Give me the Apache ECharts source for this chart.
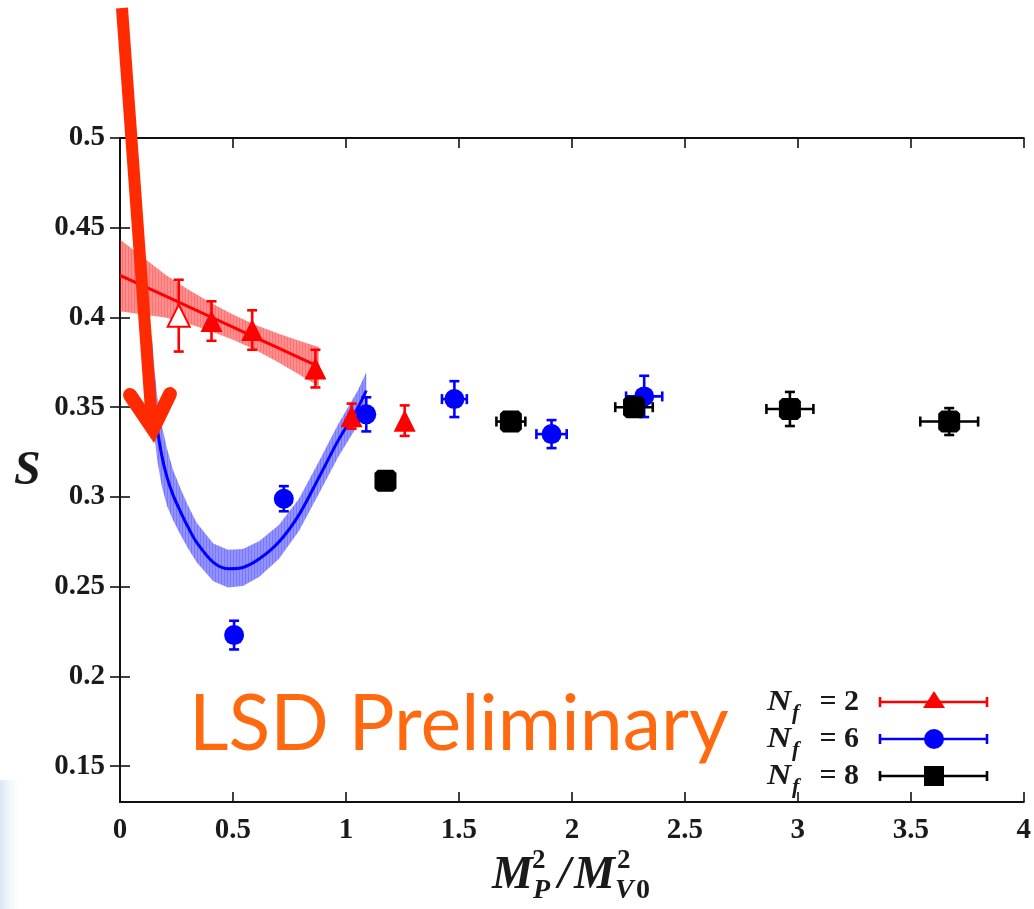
<!DOCTYPE html>
<html>
<head>
<meta charset="utf-8">
<script src="https://cdn.jsdelivr.net/npm/echarts@6/dist/echarts.min.js"></script>
<style>
  html, body { margin: 0; padding: 0; background: #ffffff; }
  #chart { width: 1034px; height: 909px; }
</style>
</head>
<body>
<div id="chart"></div>
<script>
// ---- tick values ----
const xTicks = [0, 0.5, 1, 1.5, 2, 2.5, 3, 3.5, 4];
const yTicks = [0.15, 0.2, 0.25, 0.3, 0.35, 0.4, 0.45, 0.5];

// ---- N_f = 2 (red triangles) ----
const nf2X    = [0.26, 0.405, 0.585, 0.865, 1.025, 1.26];
const nf2S    = [0.401, 0.398, 0.393, 0.3715, 0.345, 0.3425];
const nf2SErr = [0.020, 0.011, 0.011, 0.0105, 0.007, 0.0085];
const nf2XErr = [0, 0, 0, 0, 0, 0];

// ---- N_f = 6 (blue circles) ----
const nf6X    = [0.505, 0.725, 1.09, 1.48, 1.91, 2.32];
const nf6S    = [0.223, 0.299, 0.346, 0.3545, 0.335, 0.356];
const nf6SErr = [0.008, 0.007, 0.0095, 0.010, 0.0078, 0.0115];
const nf6XErr = [0, 0, 0, 0.055, 0.067, 0.08];

// ---- N_f = 8 (black squares) ----
const nf8X    = [1.175, 1.73, 2.275, 2.965, 3.67];
const nf8S    = [0.309, 0.342, 0.350, 0.349, 0.342];
const nf8SErr = [0.003, 0.004, 0.003, 0.0095, 0.0075];
const nf8XErr = [0.02, 0.064, 0.083, 0.104, 0.128];

// ---- N_f = 2 chiral fit with error band ----
const fit2X  = [0, 0.1, 0.2, 0.3, 0.4, 0.5, 0.6, 0.7, 0.8, 0.88];
const fit2S  = [0.4235, 0.4177, 0.4120, 0.4062, 0.4004, 0.3946, 0.3888, 0.3830, 0.3772, 0.3726];
const fit2Hi = [0.4435, 0.4337, 0.4240, 0.4157, 0.4084, 0.4016, 0.3958, 0.3910, 0.3867, 0.3836];
const fit2Lo = [0.4035, 0.4017, 0.4000, 0.3967, 0.3924, 0.3876, 0.3818, 0.3750, 0.3677, 0.3616];

// ---- N_f = 6 chiral fit with error band ----
const fit6X  = [0.14, 0.15, 0.164, 0.185, 0.208, 0.235, 0.267, 0.30, 0.34, 0.413, 0.478, 0.544, 0.617, 0.704, 0.792, 0.879, 0.966, 1.054, 1.09];
const fit6S  = [0.372, 0.356, 0.339, 0.323, 0.311, 0.301, 0.292, 0.2835, 0.2745, 0.2635, 0.2600, 0.2607, 0.2655, 0.2750, 0.2900, 0.3105, 0.3315, 0.3500, 0.3593];
const fit6Hi = [0.392, 0.375, 0.357, 0.340, 0.327, 0.315, 0.305, 0.2955, 0.2855, 0.2740, 0.2705, 0.2710, 0.2755, 0.2845, 0.2990, 0.3195, 0.3407, 0.3597, 0.3695];
const fit6Lo = [0.352, 0.337, 0.321, 0.306, 0.295, 0.287, 0.279, 0.2715, 0.2635, 0.2530, 0.2495, 0.2504, 0.2555, 0.2655, 0.2810, 0.3015, 0.3223, 0.3403, 0.3491];

const RED = '#ff0000', BLUE = '#0000ff', BLACK = '#000000';
const SERIF = '"Liberation Serif", "Times New Roman", serif';
// small square marker with slightly clipped corners
const SQUARE = 'path://M1.5,0 L8.5,0 L10,1.5 L10,8.5 L8.5,10 L1.5,10 L0,8.5 L0,1.5 Z';

// vertical-stripe fill used for the fit bands
function stripes(r, g, b) {
  const c = document.createElement('canvas');
  c.width = 3; c.height = 4;
  const ctx = c.getContext('2d');
  ctx.fillStyle = `rgba(${r},${g},${b},0.48)`;
  ctx.fillRect(0, 0, 3, 4);
  ctx.fillStyle = `rgba(${r},${g},${b},0.24)`;
  ctx.fillRect(2, 0, 1, 4);
  return { image: c, repeat: 'repeat' };
}

function bandSeries(xs, hi, lo, fill, z) {
  const rows = xs.map((x, i) => [x, hi[i], lo[i]]);
  return {
    type: 'custom', z, silent: true,
    data: rows,
    encode: { x: 0, y: [1, 2] },
    renderItem(params, api) {
      if (params.dataIndex !== 0) return null;
      const top = rows.map(r => api.coord([r[0], r[1]]));
      const bot = rows.map(r => api.coord([r[0], r[2]])).reverse();
      return { type: 'polygon', shape: { points: top.concat(bot) }, style: { fill, stroke: null } };
    }
  };
}

function fitLine(xs, ys, color, z, smooth) {
  return {
    type: 'line', z, silent: true, showSymbol: false, smooth,
    data: xs.map((x, i) => [x, ys[i]]),
    lineStyle: { color, width: 3 }
  };
}

function errorSeries(xs, ys, sErr, xErr, color, z) {
  return {
    type: 'custom', z, silent: true,
    data: xs.map((x, i) => [x, ys[i], xErr[i], sErr[i]]),
    encode: { x: 0, y: 1 },
    renderItem(params, api) {
      const x = api.value(0), y = api.value(1), xe = api.value(2), ye = api.value(3);
      const cap = 5;
      const st = { stroke: color, lineWidth: 2.6 };
      const kids = [];
      if (ye > 0) {
        const t = api.coord([x, y + ye]), b = api.coord([x, y - ye]);
        kids.push({ type: 'line', shape: { x1: t[0], y1: t[1], x2: b[0], y2: b[1] }, style: st });
        kids.push({ type: 'line', shape: { x1: t[0] - cap, y1: t[1], x2: t[0] + cap, y2: t[1] }, style: st });
        kids.push({ type: 'line', shape: { x1: b[0] - cap, y1: b[1], x2: b[0] + cap, y2: b[1] }, style: st });
      }
      if (xe > 0) {
        const l = api.coord([x - xe, y]), r = api.coord([x + xe, y]);
        kids.push({ type: 'line', shape: { x1: l[0], y1: l[1], x2: r[0], y2: r[1] }, style: st });
        kids.push({ type: 'line', shape: { x1: l[0], y1: l[1] - cap, x2: l[0], y2: l[1] + cap }, style: st });
        kids.push({ type: 'line', shape: { x1: r[0], y1: r[1] - cap, x2: r[0], y2: r[1] + cap }, style: st });
      }
      return { type: 'group', children: kids };
    }
  };
}

function pointSeries(name, xs, ys, symbol, size, color, z, itemFn) {
  return {
    name, type: 'scatter', z, symbol, symbolSize: size,
    data: xs.map((x, i) => Object.assign({ value: [x, ys[i]] }, itemFn ? itemFn(i) : {})),
    itemStyle: { color, opacity: 1 }
  };
}

const axisLineStyle = { lineStyle: { color: '#111', width: 2 } };
const tickIn = { show: true, inside: true, length: 10, lineStyle: { color: '#111', width: 1.6 } };
const labelFont = { fontFamily: SERIF, fontWeight: 'bold', fontSize: 29, color: '#1a1a1a' };

// ---- legend (drawn beside the data, bottom right) ----
const legendRows = [
  { y: 702, color: RED,   label: '= 2', mark: 'tri' },
  { y: 739, color: BLUE,  label: '= 6', mark: 'circ' },
  { y: 776, color: BLACK, label: '= 8', mark: 'sq' }
];
const legendEls = [];
legendRows.forEach(r => {
  legendEls.push({ type: 'text', x: 767, y: r.y, z: 100, scaleX: 1.12, originX: 0, originY: 0,
    style: { text: 'N', font: `italic bold 30px ${SERIF}`, fill: '#1a1a1a', align: 'left', verticalAlign: 'middle' } });
  legendEls.push({ type: 'text', x: 792, y: r.y + 11, z: 100,
    style: { text: 'f', font: `italic bold 22px ${SERIF}`, fill: '#1a1a1a', align: 'left', verticalAlign: 'middle' } });
  legendEls.push({ type: 'text', x: 859, y: r.y, z: 100,
    style: { text: r.label, font: `bold 30px ${SERIF}`, fill: '#1a1a1a', align: 'right', verticalAlign: 'middle' } });
  const st = { stroke: r.color, lineWidth: 2.6 };
  legendEls.push({ type: 'line', z: 100, shape: { x1: 880, y1: r.y, x2: 987, y2: r.y }, style: st });
  legendEls.push({ type: 'line', z: 100, shape: { x1: 880, y1: r.y - 5, x2: 880, y2: r.y + 5 }, style: st });
  legendEls.push({ type: 'line', z: 100, shape: { x1: 987, y1: r.y - 5, x2: 987, y2: r.y + 5 }, style: st });
  if (r.mark === 'tri') {
    legendEls.push({ type: 'polygon', z: 101, shape: { points: [[934, r.y - 11], [945, r.y + 6], [923, r.y + 6]] }, style: { fill: r.color } });
  } else if (r.mark === 'circ') {
    legendEls.push({ type: 'circle', z: 101, shape: { cx: 934, cy: r.y, r: 10 }, style: { fill: r.color } });
  } else {
    legendEls.push({ type: 'rect', z: 101, shape: { x: 924, y: r.y - 10, width: 20, height: 20 }, style: { fill: r.color } });
  }
});

// ---- axis titles ----
const titleEls = [
  { type: 'text', x: 14, y: 472, z: 50, style: { text: 'S', font: `italic bold 48px ${SERIF}`, fill: '#1a1a1a', align: 'left', verticalAlign: 'middle' } },
  { type: 'text', x: 492, y: 876, z: 50, style: { text: 'M', font: `italic bold 46px ${SERIF}`, fill: '#1a1a1a', align: 'left', verticalAlign: 'middle' } },
  { type: 'text', x: 532, y: 861, z: 50, style: { text: '2', font: `bold 27px ${SERIF}`, fill: '#1a1a1a', align: 'left', verticalAlign: 'middle' } },
  { type: 'text', x: 533, y: 891, z: 50, style: { text: 'P', font: `italic bold 28px ${SERIF}`, fill: '#1a1a1a', align: 'left', verticalAlign: 'middle' } },
  { type: 'text', x: 558, y: 876, z: 50, style: { text: '/', font: `italic bold 46px ${SERIF}`, fill: '#1a1a1a', align: 'left', verticalAlign: 'middle' } },
  { type: 'text', x: 574, y: 876, z: 50, style: { text: 'M', font: `italic bold 46px ${SERIF}`, fill: '#1a1a1a', align: 'left', verticalAlign: 'middle' } },
  { type: 'text', x: 617, y: 861, z: 50, style: { text: '2', font: `bold 27px ${SERIF}`, fill: '#1a1a1a', align: 'left', verticalAlign: 'middle' } },
  { type: 'text', x: 615, y: 891, z: 50, style: { text: 'V', font: `italic bold 28px ${SERIF}`, fill: '#1a1a1a', align: 'left', verticalAlign: 'middle' } },
  { type: 'text', x: 636, y: 891, z: 50, style: { text: '0', font: `bold 28px ${SERIF}`, fill: '#1a1a1a', align: 'left', verticalAlign: 'middle' } }
];

// ---- slide annotations: watermark and pointer arrow ----
const annotEls = [
  { type: 'rect', z: 0, shape: { x: 0, y: 780, width: 24, height: 129 },
    style: { fill: { type: 'linear', x: 0, y: 0, x2: 1, y2: 0,
      colorStops: [{ offset: 0, color: 'rgba(200,221,240,0.7)' }, { offset: 1, color: 'rgba(255,255,255,0)' }] } } },
  { type: 'text', x: 189, y: 687, z: 90,
    style: { text: 'LSD Preliminary', font: '77px Lato, "Open Sans", sans-serif', fill: '#ff6a10', align: 'left', verticalAlign: 'top' } },
  { type: 'line', z: 120, shape: { x1: 122, y1: 8, x2: 152, y2: 424 }, style: { stroke: '#ff2a00', lineWidth: 12, lineCap: 'butt' } },
  { type: 'polyline', z: 121, shape: { points: [[130, 395], [153, 429], [170, 394]] },
    style: { stroke: '#ff2a00', lineWidth: 14, lineCap: 'round', lineJoin: 'miter', fill: null } }
];

const chart = echarts.init(document.getElementById('chart'), null, { renderer: 'canvas' });
chart.setOption({
  animation: false,
  backgroundColor: '#ffffff',
  grid: { left: 120, right: 4, top: 138, bottom: 107, containLabel: false },
  xAxis: [
    { type: 'value', min: 0, max: 4, interval: 0.5, position: 'bottom',
      axisLine: axisLineStyle, axisTick: tickIn, splitLine: { show: false },
      axisLabel: Object.assign({ margin: 14, customValues: xTicks, formatter: v => String(+(+v).toFixed(2)) }, labelFont) },
    { type: 'value', min: 0, max: 4, interval: 0.5, position: 'top',
      axisLine: axisLineStyle, axisTick: tickIn, splitLine: { show: false }, axisLabel: { show: false } }
  ],
  yAxis: [
    { type: 'value', min: 0.13, max: 0.5, position: 'left',
      axisLine: axisLineStyle, splitLine: { show: false },
      axisTick: Object.assign({}, tickIn, { customValues: yTicks }),
      axisLabel: Object.assign({ margin: 15, customValues: yTicks, formatter: v => String(+(+v).toFixed(2)) }, labelFont) },
    { type: 'value', min: 0.13, max: 0.5, position: 'right',
      axisLine: axisLineStyle, splitLine: { show: false },
      axisTick: Object.assign({}, tickIn, { customValues: yTicks }),
      axisLabel: { show: false } }
  ],
  series: [
    bandSeries(fit2X, fit2Hi, fit2Lo, stripes(255, 20, 20), 1),
    bandSeries(fit6X, fit6Hi, fit6Lo, stripes(30, 30, 255), 1),
    fitLine(fit2X, fit2S, RED, 2, false),
    fitLine(fit6X, fit6S, BLUE, 2, 0.3),
    errorSeries(nf2X, nf2S, nf2SErr, nf2XErr, RED, 3),
    pointSeries('Nf=2', nf2X, nf2S, 'triangle', 22, RED, 3,
      i => i === 0 ? { symbol: 'emptyTriangle', itemStyle: { borderColor: RED, borderWidth: 3, color: RED } } : {}),
    errorSeries(nf6X, nf6S, nf6SErr, nf6XErr, BLUE, 4),
    pointSeries('Nf=6', nf6X, nf6S, 'circle', 20, BLUE, 4),
    errorSeries(nf8X, nf8S, nf8SErr, nf8XErr, BLACK, 5),
    pointSeries('Nf=8', nf8X, nf8S, SQUARE, 22, BLACK, 5)
  ],
  graphic: { elements: annotEls.concat(titleEls, legendEls) }
});
</script>
</body>
</html>
